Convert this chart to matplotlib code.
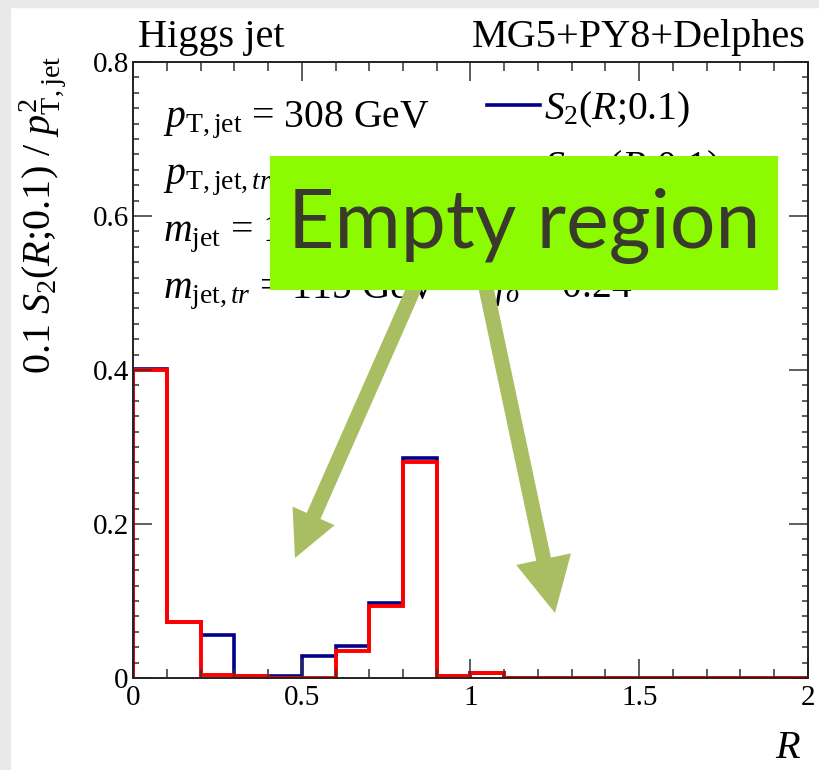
import numpy as np
import matplotlib
matplotlib.use('Agg')
import matplotlib.pyplot as plt
from matplotlib.ticker import MultipleLocator, FuncFormatter
from matplotlib.patches import Rectangle, FancyArrow

plt.rcParams['font.family'] = ['Liberation Serif', 'DejaVu Serif']
plt.rcParams['mathtext.fontset'] = 'custom'
plt.rcParams['mathtext.rm'] = 'Liberation Serif'
plt.rcParams['mathtext.it'] = 'Liberation Serif:italic'

# histogram bins in R
edges = [0.0, 0.1, 0.2, 0.3, 0.4, 0.5, 0.6, 0.7, 0.8, 0.9, 1.0,
         1.1, 1.2, 1.3, 1.4, 1.5, 1.6, 1.7, 1.8, 1.9, 2.0]
# 0.1 S2(R;0.1) / pT^2, full jet
s2_full = [0.401, 0.073, 0.056, 0.002, 0.003, 0.029, 0.041, 0.098, 0.286, 0.002,
           0.007, 0, 0, 0, 0, 0, 0, 0, 0, 0]
# trimmed jet
s2_trim = [0.400, 0.073, 0.004, 0.002, 0.0005, 0.0005, 0.035, 0.093, 0.281, 0.002,
           0.007, 0, 0, 0, 0, 0, 0, 0, 0, 0]

fig = plt.figure(figsize=(8.2, 7.7), dpi=100)
fig.patch.set_facecolor('white')
# paper texture strips on the left and top edge
fig.patches.append(Rectangle((0, 0), 10 / 820, 1, transform=fig.transFigure,
                             color='#e9e9e9', zorder=-5))
fig.patches.append(Rectangle((0, 1 - 7 / 770), 1, 7 / 770, transform=fig.transFigure,
                             color='#e9e9e9', zorder=-5))

ax = fig.add_axes([133 / 820, 92 / 770, 675 / 820, 616 / 770])
ax.stairs(s2_full, edges, color='#00008b', lw=2.6, baseline=0, label=r'$S_{2}(R$;0.1)')
ax.stairs(s2_trim, edges, color='#ff0000', lw=2.8, baseline=0, label=r'$S_{2,tr}(R$;0.1)')

ax.set_xlim(0, 2)
ax.set_ylim(0, 0.8)
ax.xaxis.set_major_locator(MultipleLocator(0.5))
ax.xaxis.set_minor_locator(MultipleLocator(0.1))
ax.yaxis.set_major_locator(MultipleLocator(0.2))
ax.yaxis.set_minor_locator(MultipleLocator(0.02))
fmt = FuncFormatter(lambda v, p: f'{v:g}')
ax.xaxis.set_major_formatter(fmt)
ax.yaxis.set_major_formatter(fmt)
ax.tick_params(which='both', direction='in', top=True, right=True,
               labelsize=21, width=1.1, color='#333333')
ax.tick_params(which='major', length=14)
ax.tick_params(axis='x', which='minor', length=6.5)
ax.tick_params(axis='y', which='minor', length=4)
ax.tick_params(axis='x', pad=5)
ax.tick_params(axis='y', pad=3)
for s in ax.spines.values():
    s.set_linewidth(1.4)
    s.set_color('#222222')

ax.set_ylabel(r'0.1 $S_{2}(R$;0.1) / $p^{2}_{\mathrm{T,jet}}$', fontsize=29, loc='top')
ax.yaxis.set_label_coords(-0.095, 1.01)
ax.set_xlabel(r'$R$', fontsize=29, loc='right')
ax.xaxis.set_label_coords(0.99, -0.085)

ax.text(0.0074, 1.024, 'Higgs jet', fontsize=29, transform=ax.transAxes, va='baseline')
ax.text(0.997, 1.024, 'MG5+PY8+Delphes', fontsize=29, transform=ax.transAxes,
        va='baseline', ha='right')

lines = [r'$p_{\mathrm{T,jet}}$ = 308 GeV',
         r'$p_{\mathrm{T,jet},tr}$ = 297 GeV',
         r'$m_{\mathrm{jet}}$ = 125 GeV',
         r'$m_{\mathrm{jet},tr}$ = 115 GeV']
for i, t in enumerate(lines):
    ax.text(0.0444, (678 - 127 - 57 * i) / 616, t, fontsize=28.5,
            transform=ax.transAxes, va='baseline')
ax.text(0.535, (678 - 297) / 616, r'$f_{\sigma}$ = 0.24', fontsize=28.5,
        transform=ax.transAxes, va='baseline')

ax.legend(loc='upper left', bbox_to_anchor=(0.524, 0.955), frameon=False,
          fontsize=28.5, handlelength=1.35, handletextpad=0.1, borderpad=0,
          borderaxespad=0, labelspacing=0.45)

# overlay in pixel coordinates
ov = fig.add_axes([0, 0, 1, 1], zorder=10)
ov.set_xlim(0, 820)
ov.set_ylim(770, 0)
ov.axis('off')
ov.patch.set_alpha(0)
arrow_col = '#a9bd63'
ov.add_patch(FancyArrow(431, 250, 295 - 431, 558 - 250, width=15, head_width=46,
                        head_length=46, length_includes_head=True,
                        color=arrow_col, lw=0))
ov.add_patch(FancyArrow(478, 250, 555 - 478, 613 - 250, width=15, head_width=56,
                        head_length=55, length_includes_head=True,
                        color=arrow_col, lw=0))
ov.add_patch(Rectangle((270, 156), 508, 134, color='#8cfa00', lw=0, zorder=3))
ov.text(524, 226, 'Empty region', fontsize=58, family='Lato', color='#3a3a2c',
        ha='center', va='center', zorder=4)

fig.savefig('out.png', dpi=100)
